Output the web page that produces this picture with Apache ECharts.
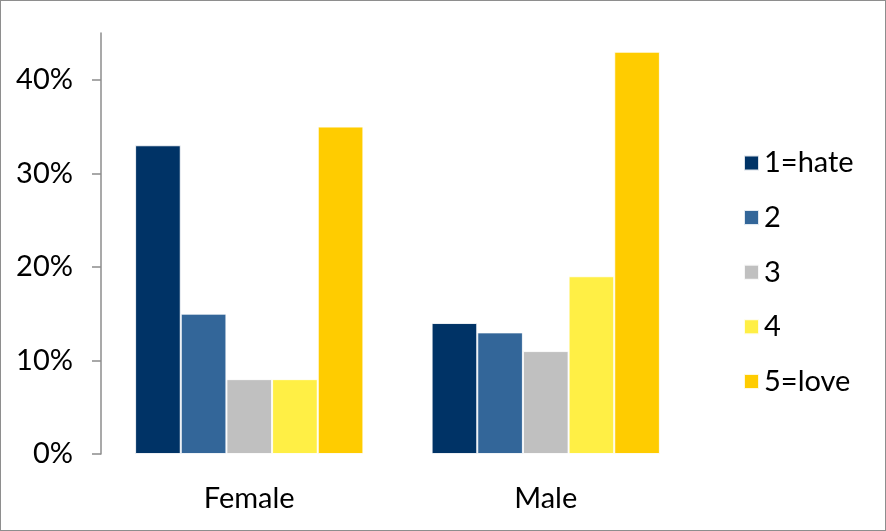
<!DOCTYPE html>
<html>
<head>
<meta charset="utf-8">
<script src="https://cdn.jsdelivr.net/npm/echarts@6/dist/echarts.min.js"></script>
<style>
html,body{margin:0;padding:0;background:#fff;}
#c{width:886px;height:531px;box-sizing:border-box;border:1px solid #8e8e8e;}
</style>
</head>
<body>
<div id="c"></div>
<script>
const categories = ['Female', 'Male'];
const seriesNames = ['1=hate', '2', '3', '4', '5=love'];
const values1 = [33, 14];
const values2 = [15, 13];
const values3 = [8, 11];
const values4 = [8, 19];
const values5 = [35, 43];
const yTicks = [0, 10, 20, 30, 40];
const colors = ['#003366', '#336699', '#C0C0C0', '#FFEF45', '#FFCC00'];

const allValues = [values1, values2, values3, values4, values5];
const font = 'Lato, "DejaVu Sans", sans-serif';

const chart = echarts.init(document.getElementById('c'), null, {renderer: 'canvas'});
chart.setOption({
  animation: false,
  color: colors,
  grid: {left: 100, right: 191, top: 32, bottom: 76, containLabel: false},
  legend: {
    orient: 'vertical',
    left: 737,
    top: 142,
    itemWidth: 15,
    itemHeight: 15,
    itemGap: 24.6,
    icon: 'rect',
    textStyle: {fontFamily: font, fontSize: 29, color: '#000', lineHeight: 30},
    data: seriesNames
  },
  xAxis: {
    type: 'category',
    data: categories,
    axisLine: {show: false},
    axisTick: {show: false},
    axisLabel: {fontFamily: font, fontSize: 29, color: '#000', margin: 30}
  },
  yAxis: {
    type: 'value',
    min: 0,
    max: 45,
    interval: 10,
    splitLine: {show: false},
    axisLine: {show: true, lineStyle: {color: '#8c8c8c', width: 1.5}},
    axisTick: {show: true, length: 9, lineStyle: {color: '#8c8c8c', width: 1.5}, customValues: yTicks},
    axisLabel: {fontFamily: font, fontSize: 29, color: '#000', margin: 28,
      customValues: yTicks, formatter: v => v + '%'}
  },
  series: seriesNames.map((name, i) => ({
    name: name,
    type: 'bar',
    data: allValues[i],
    barGap: '0%',
    barCategoryGap: '23%',
    itemStyle: {borderColor: 'rgba(255,255,255,0.85)', borderWidth: 1}
  }))
});
</script>
</body>
</html>
